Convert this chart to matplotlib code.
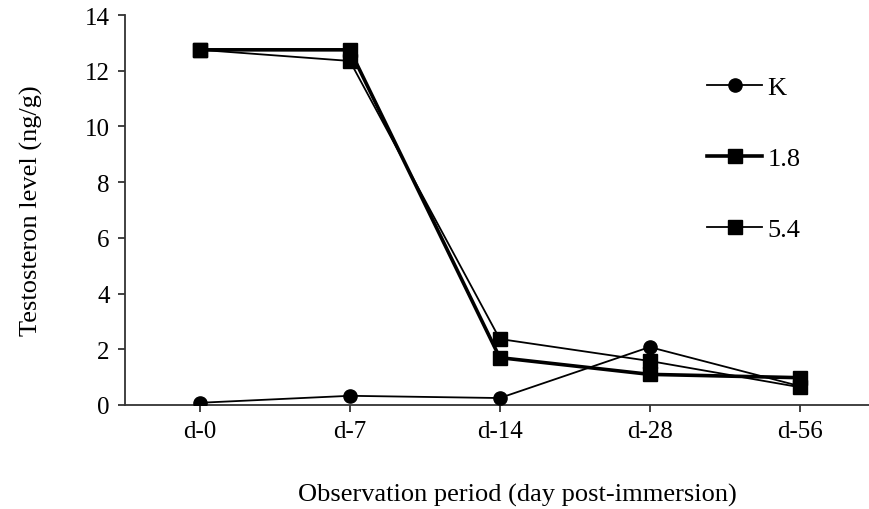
import matplotlib
matplotlib.use('Agg')
import matplotlib.pyplot as plt
import numpy as np

# observation days and testosterone levels (ng/g)
periods = ['d-0', 'd-7', 'd-14', 'd-28', 'd-56']
k_vals = [0.08, 0.33, 0.25, 2.08, 0.68]
dose_18 = [12.75, 12.75, 1.70, 1.10, 0.98]
dose_54 = [12.75, 12.35, 2.37, 1.58, 0.64]

plt.rcParams['font.family'] = ['Liberation Serif', 'DejaVu Serif']

fig = plt.figure(figsize=(8.7, 5.1), dpi=100)
ax = fig.add_axes([125 / 870, 104 / 510, 745 / 870, 390 / 510])

x = np.arange(len(periods))
ax.plot(x, dose_54, color='black', lw=1.3, marker='s', ms=10, label='5.4', zorder=3)
ax.plot(x, dose_18, color='black', lw=2.6, marker='s', ms=10, label='1.8', zorder=4)
ax.plot(x, k_vals, color='black', lw=1.3, marker='o', ms=9.5, label='K', zorder=5)

ax.set_xlim(-0.5, 4.47)
ax.set_ylim(0, 14)
ax.set_yticks(range(0, 15, 2))
ax.set_xticks(x)
ax.set_xticklabels(periods)

for side in ['top', 'right']:
    ax.spines[side].set_visible(False)
for side in ['left', 'bottom']:
    ax.spines[side].set_color('#333333')
    ax.spines[side].set_linewidth(1.3)
ax.tick_params(axis='both', direction='out', length=5, width=1.3, color='#333333',
               labelsize=18, pad=6)

ax.set_xlabel('Observation period (day post-immersion)', fontsize=19)
ax.xaxis.set_label_coords(0.527, -0.2)
ax.set_ylabel('Testosteron level (ng/g)', fontsize=19, labelpad=30)

handles, labels = ax.get_legend_handles_labels()
order = [2, 1, 0]
ax.legend([handles[i] for i in order], [labels[i] for i in order],
          loc='upper left', bbox_to_anchor=(0.781, 0.845), frameon=False,
          fontsize=19, handlelength=2.1, handletextpad=0.2, labelspacing=1.8,
          borderpad=0, borderaxespad=0)

plt.savefig('out.png', dpi=100)
